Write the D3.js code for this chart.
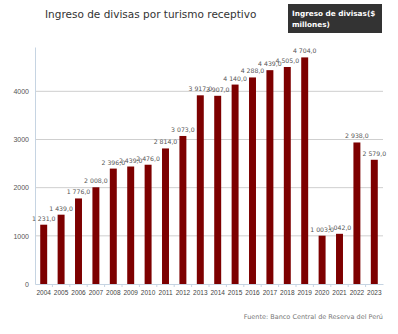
<!DOCTYPE html>
<html>
<head>
<meta charset="utf-8">
<script src="https://cdn.jsdelivr.net/npm/d3@7"></script>
<style>
  body { margin: 0; background: #fff; }
  #wrapper { width: 398px; height: 334px; }
</style>
</head>
<body>
<div id="wrapper"></div>
<script>
// data
const years = ["2004","2005","2006","2007","2008","2009","2010","2011","2012","2013",
               "2014","2015","2016","2017","2018","2019","2020","2021","2022","2023"]
const ingresos = [1231, 1439, 1776, 2008, 2396, 2439, 2476, 2814, 3073, 3917,
                  3907, 4140, 4288, 4439, 4505, 4704, 1003, 1042, 2938, 2579]
const yTicks = [0, 1000, 2000, 3000, 4000]

function drawBars() {
    const dimensions = {
      width: 398,
      height: 334,
      margin: { top: 47, right: 15, bottom: 50, left: 35 },
    }
    dimensions.boundedWidth = dimensions.width - dimensions.margin.left - dimensions.margin.right
    dimensions.boundedHeight = dimensions.height - dimensions.margin.top - dimensions.margin.bottom

    const fmt = v => d3.format(",.1f")(v).replace(/,/g, " ").replace(".", ",")

    const wrapper = d3.select("#wrapper").append("svg")
        .attr("width", dimensions.width)
        .attr("height", dimensions.height)
        .style("font-family", "'DejaVu Sans', Verdana, sans-serif")

    const bounds = wrapper.append("g")
        .attr("transform", `translate(${dimensions.margin.left}, ${dimensions.margin.top})`)

    const xScaler = d3.scaleBand()
        .domain(years)
        .range([0, dimensions.boundedWidth])
        .paddingInner(0.6)
        .paddingOuter(0.3)

    const yScaler = d3.scaleLinear()
        .domain([0, 4920])
        .range([dimensions.boundedHeight, 0])

    // grid
    bounds.append("g")
        .selectAll("line")
        .data(yTicks.slice(1))
        .join("line")
        .attr("x1", 0)
        .attr("x2", dimensions.boundedWidth)
        .attr("y1", d => yScaler(d))
        .attr("y2", d => yScaler(d))
        .attr("stroke", "#cfcfcf")
        .attr("stroke-width", 1)

    // y axis
    const yAxis = bounds.append("g")
        .call(d3.axisLeft(yScaler).tickValues(yTicks).tickSize(0).tickPadding(6).tickFormat(d3.format("d")))
    yAxis.select(".domain").attr("stroke", "#c6d4e2")
    yAxis.selectAll("text").attr("fill", "#555").style("font-size", "7px")

    // bars
    bounds.append("g")
        .selectAll("rect")
        .data(ingresos)
        .join("rect")
        .attr("x", (d, i) => xScaler(years[i]))
        .attr("y", d => yScaler(d))
        .attr("width", xScaler.bandwidth())
        .attr("height", d => dimensions.boundedHeight - yScaler(d))
        .attr("fill", "#7d0000")

    // value labels
    bounds.append("g")
        .selectAll("text")
        .data(ingresos)
        .join("text")
        .attr("x", (d, i) => xScaler(years[i]) + xScaler.bandwidth() / 2)
        .attr("y", d => yScaler(d) - 4)
        .attr("text-anchor", "middle")
        .attr("fill", "#555")
        .style("font-size", "6.2px")
        .text(d => fmt(d))

    // x axis, small ticks between categories
    const xAxis = bounds.append("g")
        .attr("transform", `translate(0, ${dimensions.boundedHeight})`)
        .call(d3.axisBottom(xScaler).tickSize(0).tickPadding(6))
    xAxis.select(".domain").attr("stroke", "#c6d4e2")
    xAxis.selectAll("text").attr("fill", "#444").style("font-size", "6.5px")
    xAxis.selectAll(".sep")
        .data(years.slice(1))
        .join("line")
        .attr("class", "sep")
        .attr("x1", d => xScaler(d) - xScaler.step() * xScaler.paddingInner() / 2)
        .attr("x2", d => xScaler(d) - xScaler.step() * xScaler.paddingInner() / 2)
        .attr("y1", 0)
        .attr("y2", 3)
        .attr("stroke", "#c6d4e2")

    // title
    wrapper.append("text")
        .attr("x", 45)
        .attr("y", 18)
        .attr("fill", "#333")
        .style("font-size", "10.5px")
        .text("Ingreso de divisas por turismo receptivo")

    // legend box
    wrapper.append("rect")
        .attr("x", 288)
        .attr("y", 4)
        .attr("width", 94)
        .attr("height", 29)
        .attr("fill", "#333")
    const leg = wrapper.append("text")
        .attr("fill", "#fff")
        .style("font-size", "7.3px")
        .style("font-weight", "bold")
    leg.append("tspan").attr("x", 292).attr("y", 16).text("Ingreso de divisas($")
    leg.append("tspan").attr("x", 292).attr("y", 27).text("millones)")

    // source
    wrapper.append("text")
        .attr("x", 383)
        .attr("y", 319)
        .attr("text-anchor", "end")
        .attr("fill", "#777")
        .style("font-size", "6.5px")
        .text("Fuente: Banco Central de Reserva del Perú")
}

drawBars()
</script>
</body>
</html>
